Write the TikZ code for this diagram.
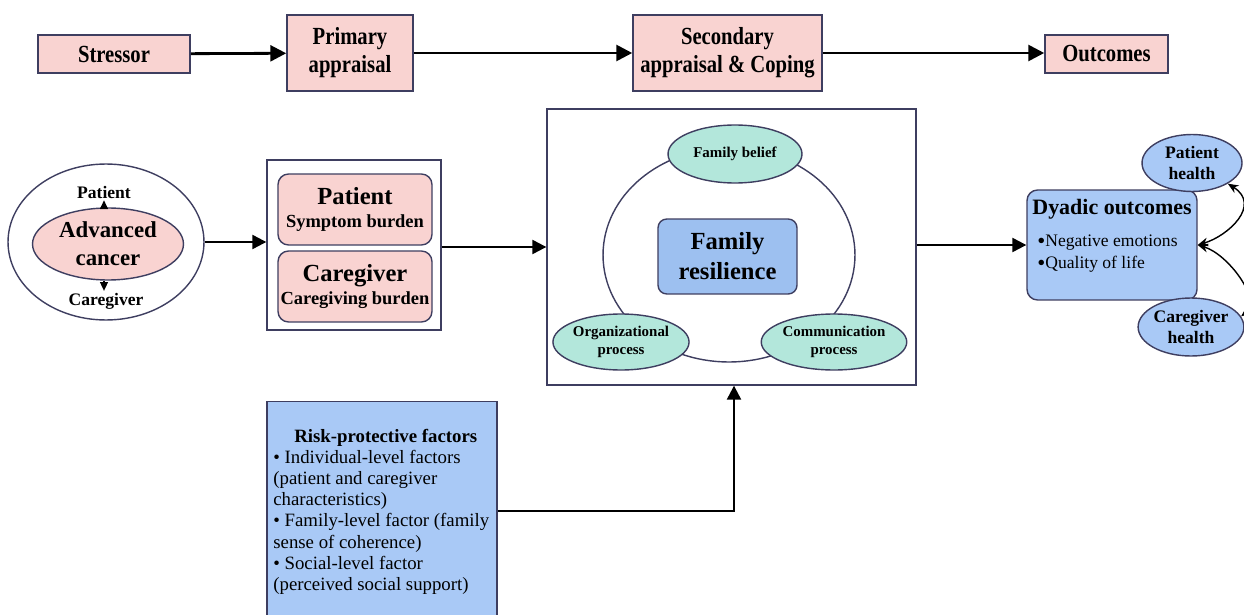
\documentclass[tikz,border=0pt]{standalone}
\usepackage{fontspec}
\setmainfont{Liberation Serif}
\usetikzlibrary{arrows.meta,shapes.geometric}
\definecolor{pinkf}{HTML}{F9D3D1}
\definecolor{tealf}{HTML}{B3E7DB}
\definecolor{bluef}{HTML}{A9C9F6}
\definecolor{bluefr}{HTML}{9DC0F0}
\definecolor{edge}{HTML}{3E3E60}
\newcommand{\cond}[1]{\scalebox{0.84}[1]{\begin{tabular}{@{}c@{}}#1\end{tabular}}}
\newcommand{\condone}[1]{\scalebox{0.84}[1]{#1}}
\newcommand{\bigbul}{\raisebox{-0.07em}{\scalebox{1.3}{\textbullet}}}
\tikzset{
  topbox/.style={draw=edge, line width=0.9pt, fill=pinkf, align=center, inner sep=0pt, font=\bfseries\fontsize{14}{15.5}\selectfont},
  rbox/.style={draw=edge, line width=0.8pt, fill=pinkf, rounded corners=6pt, align=center, inner sep=0pt},
  plainbox/.style={draw=edge, line width=0.8pt, fill=white, inner sep=0pt},
  tealell/.style={ellipse, draw=edge, line width=0.8pt, fill=tealf, align=center, inner sep=0pt, font=\bfseries\fontsize{8.5}{10.5}\selectfont},
  blueell/.style={ellipse, draw=edge, line width=0.8pt, fill=bluef, align=center, inner sep=0pt, font=\bfseries\fontsize{10}{12.5}\selectfont},
  bigarrow/.style={line width=1.6pt, -{Triangle[length=9pt,width=9pt]}},
  midarrow/.style={line width=1.3pt, -{Triangle[length=8pt,width=8pt]}},
  smallarrow/.style={line width=0.8pt, -{Triangle[length=5pt,width=4.5pt]}},
  curvearrow/.style={line width=0.8pt, {Stealth[length=6pt,width=5pt]}-{Stealth[length=6pt,width=5pt]}},
}
\begin{document}
\begin{tikzpicture}[x=0.02cm,y=-0.02cm]
\useasboundingbox (0,0) rectangle (1244,615);
\clip (0,0) rectangle (1244,615);
% top row
\node[topbox, minimum width=3.04cm, minimum height=0.76cm] (stressor) at (114,54) {\condone{Stressor}};
\node[topbox, minimum width=2.52cm, minimum height=1.52cm] (primary) at (350,53) {\cond{Primary\\appraisal}};
\node[topbox, minimum width=3.78cm, minimum height=1.52cm] (secondary) at (727.5,53) {\cond{Secondary\\appraisal \& Coping}};
\node[topbox, minimum width=2.46cm, minimum height=0.76cm] (outcomes) at (1106.5,54) {\condone{Outcomes}};
\draw[bigarrow] (stressor) -- (primary);
\draw[bigarrow] (primary) -- (secondary);
\draw[bigarrow] (secondary) -- (outcomes.west |- secondary);

% advanced cancer
\node[ellipse, draw=edge, line width=0.8pt, fill=white, minimum width=3.92cm, minimum height=3.12cm, inner sep=0pt] (outer) at (106,242) {};
\node[ellipse, draw=edge, line width=0.8pt, fill=pinkf, minimum width=3.02cm, minimum height=1.44cm, inner sep=0pt, align=center, font=\bfseries\fontsize{13}{16}\selectfont] (cancer) at (108,244) {Advanced\\cancer};
\node[font=\bfseries\fontsize{10}{12}\selectfont, inner sep=1pt] (pt) at (104,192) {Patient};
\node[font=\bfseries\fontsize{10}{12}\selectfont, inner sep=1pt] (cg) at (106,301) {Caregiver};
\draw[smallarrow] (cancer.north -| pt.south) -- (pt.south);
\draw[smallarrow] (cancer.south -| pt.south) -- (cg.north -| pt.south);

% patient / caregiver burden
\node[plainbox, minimum width=3.48cm, minimum height=3.4cm] (burden) at (354,245) {};
\node[rbox, minimum width=3.08cm, minimum height=1.42cm] (pburden) at (355,209.5) {{\bfseries\fontsize{14}{16}\selectfont Patient}\\[1pt]{\bfseries\fontsize{10.5}{12}\selectfont Symptom burden}};
\node[rbox, minimum width=3.08cm, minimum height=1.42cm] (cburden) at (355,286.5) {{\bfseries\fontsize{14}{16}\selectfont Caregiver}\\[1pt]{\bfseries\fontsize{10.5}{12}\selectfont Caregiving burden}};
\draw[midarrow] (outer.east) -- (burden.west |- outer.east);

% family resilience
\node[plainbox, minimum width=7.38cm, minimum height=5.52cm] (res) at (731.5,247) {};
\node[ellipse, draw=edge, line width=0.8pt, minimum width=5.04cm, minimum height=4.28cm, inner sep=0pt] (ring) at (729,255) {};
\node[tealell, minimum width=2.68cm, minimum height=1.16cm] (belief) at (735,154) {Family belief};
\node[tealell, minimum width=2.64cm, minimum height=1.12cm] (org) at (621,342) {Organizational\\process};
\node[tealell, minimum width=2.68cm, minimum height=1.12cm] (comm) at (834,342) {Communication\\process};
\node[draw=edge, line width=0.8pt, fill=bluefr, rounded corners=5pt, minimum width=2.78cm, minimum height=1.5cm, align=center, inner sep=0pt, font=\bfseries\fontsize{14}{17}\selectfont] (fr) at (727.5,256.5) {Family\\resilience};
\draw[midarrow] (burden.east |- res.west) -- (res.west);

% dyadic outcomes
\node[draw=edge, line width=0.8pt, fill=bluef, rounded corners=6pt, minimum width=3.4cm, minimum height=2.2cm, inner sep=0pt] (dyad) at (1112,245) {};
\node[font=\bfseries\fontsize{12.5}{14}\selectfont, inner sep=0pt] (dyadt) at (1112,209) {Dyadic outcomes};
\node[font=\fontsize{10}{12.5}\selectfont, align=left, anchor=north west, inner sep=0pt] (dyadl) at (1037,235) {\bigbul Negative emotions\\\bigbul Quality of life};
\node[blueell, minimum width=2.0cm, minimum height=1.14cm] (ph) at (1192,163) {Patient\\health};
\node[blueell, minimum width=2.04cm, minimum height=1.16cm] (chl) at (1191,327) {Caregiver\\health};
\draw[midarrow] (res.east |- dyad.west) -- (dyad.west);
\draw[curvearrow] (dyad.east) .. controls (1228,236) and (1262,205) .. (ph.-30);
\draw[curvearrow] (dyad.east) .. controls (1228,254) and (1262,300) .. (chl.12);

% risk-protective factors
\node[draw=edge, line width=0.8pt, fill=bluef, minimum width=4.6cm, minimum height=4.38cm, inner sep=0pt] (risk) at (382,511) {};
\node[anchor=north west, inner sep=0pt, align=left, font=\fontsize{10.7}{12}\selectfont] (riskt) at (273,429) {\hspace*{0.42cm}{\bfseries Risk-protective factors}\\
\textbullet\ Individual-level factors\\
(patient and caregiver\\
characteristics)\\
\textbullet\ Family-level factor (family\\
sense of coherence)\\
\textbullet\ Social-level factor\\
(perceived social support)};
\draw[midarrow] (risk.east) -| ([xshift=0.05cm]res.south);
\end{tikzpicture}
\end{document}
